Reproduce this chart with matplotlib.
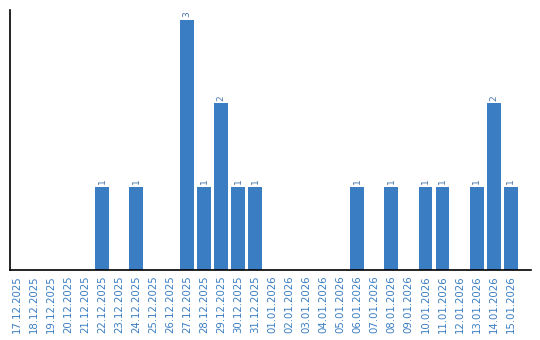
import matplotlib
matplotlib.use('Agg')
import matplotlib.pyplot as plt
import numpy as np

dates = ['17.12.2025', '18.12.2025', '19.12.2025', '20.12.2025', '21.12.2025',
         '22.12.2025', '23.12.2025', '24.12.2025', '25.12.2025', '26.12.2025',
         '27.12.2025', '28.12.2025', '29.12.2025', '30.12.2025', '31.12.2025',
         '01.01.2026', '02.01.2026', '03.01.2026', '04.01.2026', '05.01.2026',
         '06.01.2026', '07.01.2026', '08.01.2026', '09.01.2026', '10.01.2026',
         '11.01.2026', '12.01.2026', '13.01.2026', '14.01.2026', '15.01.2026']
counts = [0, 0, 0, 0, 0,
          1, 0, 1, 0, 0,
          3, 1, 2, 1, 1,
          0, 0, 0, 0, 0,
          1, 0, 1, 0, 1,
          1, 0, 1, 2, 1]

bar_color = '#3a7dc2'

fig = plt.figure(figsize=(5.4, 3.4), dpi=100)
ax = fig.add_axes([0.0194, 0.206, 0.964, 0.765])

x = np.arange(len(dates))
ax.bar(x, counts, width=0.82, color=bar_color)

for xi, c in zip(x, counts):
    if c > 0:
        ax.text(xi, c + 0.03, str(c), rotation=90, ha='center', va='bottom',
                fontsize=6.5, color='#4a77a8')

ax.set_xlim(-0.38, 30.2)
ax.set_ylim(0, 3.12)
ax.set_xticks(x)
ax.set_xticklabels(dates, rotation=90, fontsize=7.3, color=bar_color)
ax.tick_params(axis='x', length=0, pad=4)
ax.set_yticks([])
ax.spines['top'].set_visible(False)
ax.spines['right'].set_visible(False)
ax.spines['left'].set_linewidth(1.2)
ax.spines['bottom'].set_linewidth(1.2)

fig.savefig('out.png', dpi=100)
